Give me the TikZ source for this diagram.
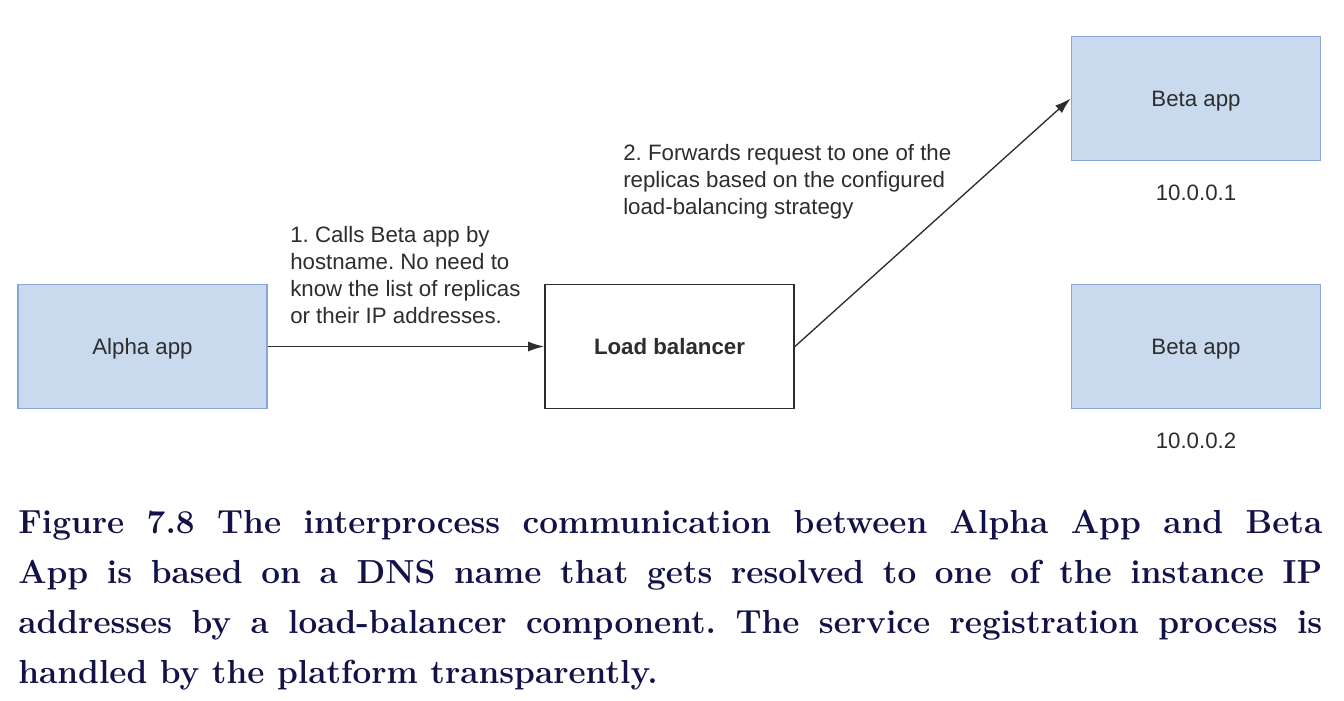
\documentclass[tikz,border=0pt]{standalone}
\usepackage{fontspec}
\setsansfont{Liberation Sans}
\usepackage{xcolor}
\usepackage{tikz}
\usetikzlibrary{arrows.meta,positioning}

\definecolor{boxfill}{RGB}{201,218,239}
\definecolor{boxline}{RGB}{138,164,212}
\definecolor{inkgray}{RGB}{45,45,45}
\definecolor{capnavy}{RGB}{18,18,72}

\begin{document}
\begin{tikzpicture}[x=0.75pt, y=-0.75pt,
    diag/.style={font=\sffamily\fontsize{16.7}{20.3}\selectfont\frenchspacing, text=inkgray},
    appbox/.style={diag, draw=boxline, fill=boxfill, line width=1.1pt, text depth=0pt, minimum width=187pt, minimum height=93pt},
    lbbox/.style={diag, draw=inkgray, fill=white, line width=1.1pt, text depth=0pt, minimum width=187pt, minimum height=93pt},
    note/.style={diag, align=left, inner sep=0pt, anchor=north west},
    flow/.style={-{Latex[length=12pt, width=7.5pt]}, line width=1pt, draw=inkgray}]
    \useasboundingbox (0,0) rectangle (1344,700);
    \node[appbox] (alpha) at (142.5,346.5) {Alpha app};
    \node[lbbox] (lb) at (669.5,346.5) {\bfseries Load balancer};
    \node[appbox] (betaA) at (1196,98.5) {Beta app};
    \node[appbox] (betaB) at (1196,346.5) {Beta app};
    \node[diag] (ipA) at (1196,192.5) {10.0.0.1};
    \node[diag] (ipB) at (1196,440.5) {10.0.0.2};
    \draw[flow] (alpha) -- (lb);
    \draw[flow] (lb.east) -- (betaA.west);
    \node[note] (callnote) at (290,225.7) {1. Calls Beta app by\\hostname. No need to\\know the list of replicas\\or their IP addresses.};
    \node[note] (fwdnote) at (623,143.7) {2. Forwards request to one of the\\replicas based on the configured\\load-balancing strategy};
    \node[anchor=north west, inner sep=0pt, text width=978pt, align=justify, text=capnavy,
        font=\rmfamily\bfseries\fontsize{25}{37.5}\selectfont] (caption) at (18,510)
        {\tolerance=10000\hbadness=10000\frenchspacing
        Figure 7.8 The interprocess communication between Alpha App and Beta\linebreak
        App is based on a DNS name that gets resolved to one of the instance IP\linebreak
        addresses by a load-balancer component. The service registration process is\linebreak
        handled by the platform transparently.};
\end{tikzpicture}
\end{document}
